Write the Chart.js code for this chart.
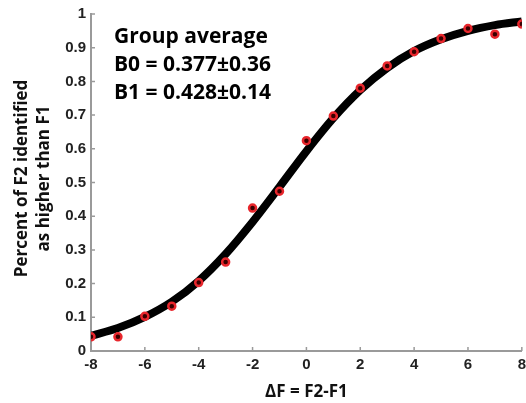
<!DOCTYPE html>
<html>
<head>
<meta charset="utf-8">
<script src="https://cdn.jsdelivr.net/npm/chart.js@4.4.1/dist/chart.umd.min.js"></script>
<style>
html,body{margin:0;padding:0;background:#fff;overflow:hidden;}
#wrap{position:relative;width:531px;height:403px;}
</style>
</head>
<body>
<div id="wrap"><canvas id="c" width="531" height="403"></canvas></div>
<script>
const deltaF = [-8,-7,-6,-5,-4,-3,-2,-1,0,1,2,3,4,5,6,7,8];
const observed = [0.042,0.042,0.103,0.133,0.203,0.264,0.424,0.474,0.624,0.697,0.780,0.846,0.888,0.927,0.957,0.940,0.970];
const fitted = [0.045,0.068,0.101,0.146,0.208,0.288,0.383,0.487,0.593,0.691,0.774,0.840,0.890,0.925,0.950,0.967,0.978];
const xTicks = [-8,-6,-4,-2,0,2,4,6,8];
const annotation = ["Group average","B0 = 0.377\u00b10.36","B1 = 0.428\u00b10.14"];
const xTitle = "\u0394F = F2-F1";
const yTitle = ["Percent of F2 identified","as higher than F1"];

const axisColor = "#9a9a9a";
const inwardTicks = {
  id:'inwardTicks',
  beforeDatasetsDraw(chart){
    const ctx = chart.ctx, xs = chart.scales.x, ys = chart.scales.y, a = chart.chartArea;
    ctx.save();
    ctx.strokeStyle = axisColor; ctx.lineWidth = 1.5;
    ctx.beginPath();
    xs.ticks.forEach(t=>{const px = xs.getPixelForValue(t.value); ctx.moveTo(px,a.bottom); ctx.lineTo(px,a.bottom-4);});
    ys.ticks.forEach(t=>{const py = ys.getPixelForValue(t.value); ctx.moveTo(a.left,py); ctx.lineTo(a.left+4,py);});
    ctx.stroke();
    ctx.restore();
  },
  afterDraw(chart){
    const ctx = chart.ctx, a = chart.chartArea;
    ctx.save();
    ctx.fillStyle = "#000";
    ctx.textBaseline = "alphabetic";
    ctx.font = "bold 21px 'Open Sans'";
    ctx.fillText(annotation[0], a.left+23, a.top+29);
    ctx.fillText(annotation[1], a.left+23, a.top+57);
    ctx.fillText(annotation[2], a.left+23, a.top+85);
    // y-axis title
    ctx.fillStyle = "#111";
    ctx.font = "bold 17px 'Open Sans'";
    ctx.textAlign = "center";
    ctx.textBaseline = "middle";
    const cy = (a.top + a.bottom) / 2 - 4;
    ctx.translate(a.left - 69, cy);
    ctx.rotate(-Math.PI/2);
    ctx.fillText(yTitle[0], 0, 0);
    ctx.fillText(yTitle[1], 0, 22);
    ctx.restore();
  }
};

new Chart(document.getElementById('c'), {
  type:'line',
  data:{
    datasets:[
      {label:'observed', data: deltaF.map((x,i)=>({x:x,y:observed[i]})), showLine:false,
       pointRadius:3.5, pointBorderWidth:2.5, pointBorderColor:'#e8262c', pointBackgroundColor:'#3a0000', order:0},
      {label:'fit', data: deltaF.map((x,i)=>({x:x,y:fitted[i]})), borderColor:'#000', borderWidth:8,
       pointRadius:0, cubicInterpolationMode:'monotone', fill:false, order:1}
    ]
  },
  options:{
    responsive:false, animation:false,
    layout:{padding:{left:0,top:12,right:0,bottom:0}},
    plugins:{legend:{display:false},tooltip:{enabled:false}},
    scales:{
      x:{type:'linear', min:-8, max:8,
        afterBuildTicks(s){ s.ticks = xTicks.map(v=>({value:v})); },
        afterFit(s){ s.height = 52; },
        grid:{display:false, drawTicks:false},
        border:{display:true,color:axisColor,width:2},
        ticks:{color:'#222', font:{family:'Liberation Sans',weight:'bold',size:15}, padding:5, maxRotation:0},
        title:{display:true,text:xTitle,color:'#111',font:{family:'Open Sans',weight:'bold',size:17},padding:{top:0,bottom:1}}
      },
      y:{min:0,max:1,
        afterFit(s){ s.width = 91; },
        ticks:{stepSize:0.1,color:'#222',font:{family:'Liberation Sans',weight:'bold',size:15},padding:5,
          callback:(v)=>String(Math.round(v*10)/10)},
        grid:{display:false, drawTicks:false},
        border:{display:true,color:axisColor,width:2},
        title:{display:false}
      }
    }
  },
  plugins:[inwardTicks]
});
</script>
</body>
</html>
